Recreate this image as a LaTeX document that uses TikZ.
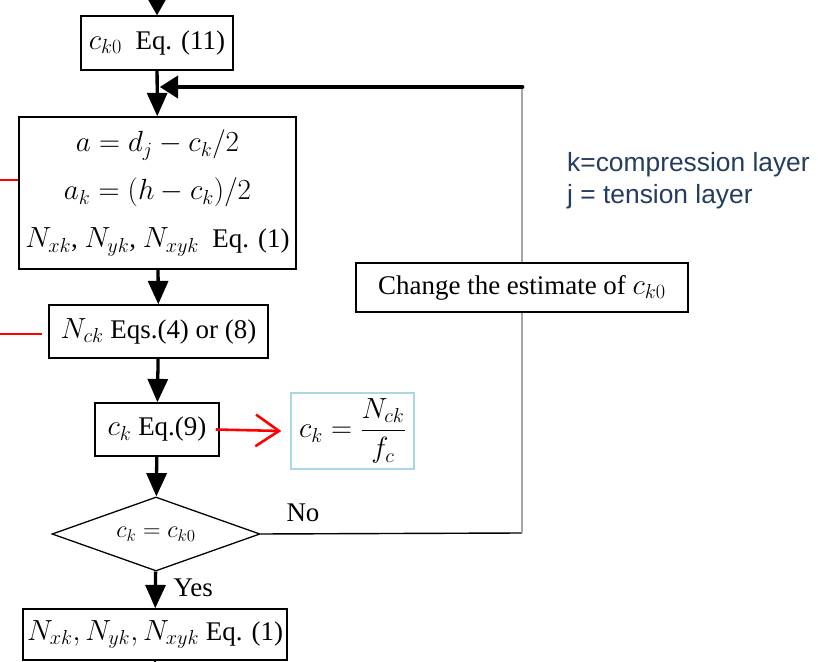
\documentclass[tikz,border=0pt]{standalone}
\usepackage{amsmath}
\usepackage{fontspec}
\setmainfont{Liberation Serif}
\newfontfamily\notefont{Liberation Sans}
\usepackage{xcolor}
\usepackage{tikz}
\usetikzlibrary{arrows.meta,positioning,calc,shapes.geometric}
\definecolor{notecol}{RGB}{35,60,95}
\definecolor{fboxcol}{RGB}{170,215,228}

\begin{document}
\begin{tikzpicture}[
    stepbox/.style={draw=black,line width=1.3pt,fill=white,inner sep=2pt,
      font=\fontsize{23}{28}\selectfont},
    flow/.style={line width=2.8pt,-{Triangle[length=0.7cm,width=0.6cm]}},
    loopback/.style={line width=4.2pt,-{Triangle[length=0.55cm,width=0.65cm]}},
    lbl/.style={font=\fontsize{23}{28}\selectfont,inner sep=0pt},
    redline/.style={red,line width=2.2pt},
    note/.style={font=\notefont\fontsize{22.5}{27.5}\selectfont,
      text=notecol,align=left,inner sep=0pt}
  ]
    \useasboundingbox (0,0) rectangle (24.54,19.83);
    \clip (0,0) rectangle (24.54,19.83);

    % main column
    \node[stepbox,minimum width=4.56cm,minimum height=1.62cm] (b1)
      at (4.71,18.54) {$c_{k0}$\ \ Eq. (11)};
    \node[stepbox,minimum width=8.31cm,minimum height=4.56cm,align=center,
      font=\fontsize{23}{41}\selectfont] (b2) at (4.725,14.04)
      {$a=d_j-c_k/2$\\ $a_k=(h-c_k)/2$\\ $N_{xk}$, $N_{yk}$, $N_{xyk}$\ \ Eq. (1)};
    \node[stepbox,minimum width=6.57cm,minimum height=1.59cm] (b3)
      at (4.755,9.885) {$N_{ck}$\ Eqs.(4) or (8)};
    \node[stepbox,minimum width=3.72cm,minimum height=1.59cm] (b4)
      at (4.71,6.945) {$c_k$\ Eq.(9)};
    \node[draw=fboxcol,line width=1.2pt,minimum width=3.69cm,minimum height=2.28cm,
      font=\fontsize{23}{28}\selectfont] (fbox) at (10.575,6.9)
      {$c_k=\dfrac{N_{ck}}{f_c}$};
    \node[diamond,draw=black,line width=1.1pt,aspect=2.8,inner sep=0pt,
      minimum width=6.24cm,minimum height=2.22cm,
      font=\fontsize{21}{26}\selectfont] (dia) at (4.68,3.81) {$c_k=c_{k0}$};
    \node[stepbox,minimum width=7.92cm,minimum height=1.53cm] (b5)
      at (4.65,0.795) {$N_{xk},N_{yk},N_{xyk}$\ Eq. (1)};

    \coordinate (top) at (4.71,20.3);
    \draw[line width=1.6pt,-{Triangle[length=0.45cm,width=0.5cm]}] (top) -- (b1.north);
    \draw[flow] (b1) -- (b2);
    \draw[flow] (b2) -- (b3);
    \draw[flow] (b3) -- (b4);
    \draw[flow] (b4) -- (dia);
    \draw[flow] (dia) -- (b5);
    \coordinate (bot) at (4.65,-0.5);
    \draw[line width=1.6pt] (b5) -- (bot);

    % loop back
    \coordinate (fbR) at (15.66,17.22);
    \coordinate (noR) at (15.66,3.84);
    \draw[line width=1.2pt] (dia.east) -- (noR);
    \draw[gray!70,line width=2.4pt] (noR) -- (fbR);
    \draw[loopback,line cap=round] (fbR) -- ($(fbR -| b1.south)+(0.08,0)$);
    \node[stepbox,minimum width=9.96cm,minimum height=1.47cm] (cb)
      at (15.66,11.205) {Change the estimate of $c_{k0}$};
    \node[lbl] (no) at (9.09,4.45) {No};
    \node[lbl] (yes) at (5.8,2.19) {Yes};

    % red markers
    \coordinate (redA) at (0,14.43);
    \coordinate (redB) at (0,9.81);
    \draw[redline] (redA) -- (redA -| b2.west);
    \draw[redline] (redB) -- ($(redB -| b3.west)+(-0.18,0)$);
    \draw[redline,-{Straight Barb[length=0.7cm,width=0.95cm,line width=2.2pt]}]
      ([xshift=-0.12cm]b4.east) -- ([xshift=-0.27cm]fbox.west);

    \node[note,anchor=base west] (notes) at (17.01,13.71)
      {k=compression layer\\j = tension layer};
\end{tikzpicture}
\end{document}
